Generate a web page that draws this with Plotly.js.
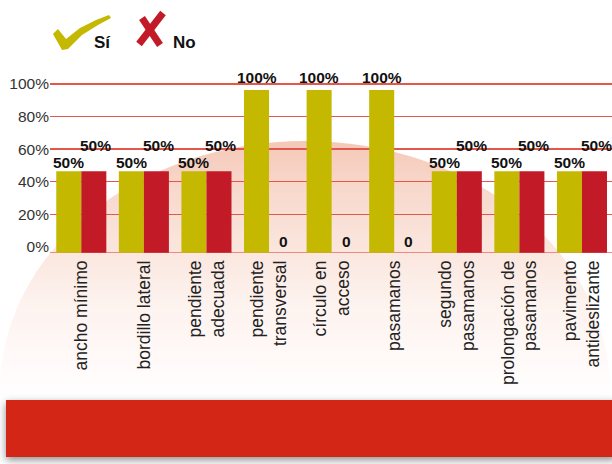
<!DOCTYPE html>
<html>
<head>
<meta charset="utf-8">
<script src="https://cdn.plot.ly/plotly-3.0.1.min.js"></script>
<style>
  html, body { margin: 0; padding: 0; background: #ffffff; }
  #wrap { position: relative; width: 612px; height: 464px; overflow: hidden; background: #ffffff; }
  #blob { position: absolute; left: 0px; top: 141px; width: 610px; height: 498px; border-radius: 50%;
          background: linear-gradient(to bottom, #f5c8b7 0px, #f8d9cd 50px, #fae4db 100px, #fdf2ee 160px, #fffbfa 230px, #ffffff 260px); }
  #band { position: absolute; left: 6px; top: 400px; width: 610px; height: 57px; background: #d42616;
          box-shadow: 0 3px 8px rgba(0,0,0,0.45); }
  #chart { position: absolute; left: 0; top: 0; width: 612px; height: 464px; }
</style>
</head>
<body>
<div id="wrap">
  <div id="blob"></div>
  <div id="band"></div>
  <div id="chart"></div>
</div>
<script>
// ---- data ----
const categories = [
  'ancho mínimo',
  'bordillo lateral',
  'pendiente<br>adecuada',
  'pendiente<br>transversal',
  'círculo en<br>acceso',
  'pasamanos',
  'segundo<br>pasamanos',
  'prolongación de<br>pasamanos',
  'pavimento<br>antideslizante'
];
const siValues = [50, 50, 50, 100, 100, 100, 50, 50, 50];
const noValues = [50, 50, 50, 0, 0, 0, 50, 50, 50];
const seriesNames = ['Sí', 'No'];
const yTickVals = [0, 20, 40, 60, 80, 100];
const yTickText = ['0%', '20%', '40%', '60%', '80%', '100%'];

// ---- styles ----
const olive = '#c4b800';
const red = '#c21a27';
const gridColor = '#e4574b';
const fontFam = '"Liberation Sans", Arial, sans-serif';

// plot area in pixels (for decorative legend icons)
const L = 50, T = 70, W = 562, H = 186;
const px = x => (x - L) / W;
const py = y => (T + H - y) / H;
function poly(pts) {
  return pts.map((p, i) => (i ? 'L' : 'M') + px(p[0]).toFixed(4) + ',' + py(p[1]).toFixed(4)).join(' ') + ' Z';
}

const traces = [
  // empty trace that anchors the scale axis (tick labels + grid)
  { type: 'scatter', mode: 'markers', x: [], y: [], xaxis: 'x', yaxis: 'y', hoverinfo: 'none', showlegend: false },
  { type: 'bar', name: seriesNames[0], x: categories, y: siValues, yaxis: 'y2',
    marker: { color: olive }, hoverinfo: 'none' },
  { type: 'bar', name: seriesNames[1], x: categories, y: noValues, yaxis: 'y2',
    marker: { color: red }, hoverinfo: 'none' }
];

const labelFont = { family: fontFam, size: 15.5, color: '#111', weight: 'bold' };
const annotations = [];
siValues.forEach((v, i) => {
  annotations.push({ x: i - 0.2, y: v, xref: 'x', yref: 'y2', text: v > 0 ? v + '%' : '0',
    showarrow: false, xanchor: 'center', yanchor: 'bottom', yshift: v >= 100 ? 2 : -2,
    font: labelFont });
});
noValues.forEach((v, i) => {
  annotations.push({ x: i + 0.2, y: v, xref: 'x', yref: 'y2', text: v > 0 ? v + '%' : '0',
    showarrow: false, xanchor: 'center', yanchor: 'bottom', xshift: 2, yshift: v > 0 ? 15 : 1,
    font: labelFont });
});
// legend texts
annotations.push({ xref: 'paper', yref: 'paper', x: px(92), y: py(43), text: '<b>' + seriesNames[0] + '</b>',
  showarrow: false, xanchor: 'left', yanchor: 'middle', font: { family: fontFam, size: 17, color: '#111' } });
annotations.push({ xref: 'paper', yref: 'paper', x: px(171), y: py(43), text: '<b>' + seriesNames[1] + '</b>',
  showarrow: false, xanchor: 'left', yanchor: 'middle', font: { family: fontFam, size: 17, color: '#111' } });

const shapes = [
  // check mark icon
  { type: 'path', xref: 'paper', yref: 'paper', fillcolor: olive, line: { width: 0 },
    path: poly([[53,34],[58,29],[66,39],[80,28],[96,20],[109,15],[111,18],[98,25],[82,35],[68,49],[62,50]]) },
  // X icon
  { type: 'line', xref: 'paper', yref: 'paper', x0: px(163), y0: py(13), x1: px(139), y1: py(44),
    line: { color: red, width: 7 } },
  { type: 'line', xref: 'paper', yref: 'paper', x0: px(142), y0: py(18), x1: px(160), y1: py(45),
    line: { color: red, width: 7 } }
];

const layout = {
  width: 612, height: 464,
  margin: { l: L, r: 0, t: T, b: 464 - T - H, pad: 0 },
  paper_bgcolor: 'rgba(0,0,0,0)', plot_bgcolor: 'rgba(0,0,0,0)',
  font: { family: fontFam, color: '#222' },
  showlegend: false,
  barmode: 'group', bargap: 0.2, bargroupgap: 0,
  xaxis: { type: 'category', range: [-0.5, 8.48], tickangle: -90, showgrid: false, zeroline: false,
    showline: false, ticks: '', tickfont: { family: fontFam, size: 17.5, color: '#222' }, fixedrange: true },
  yaxis: { range: [-5.59, 108.6], tickmode: 'array', tickvals: yTickVals, ticktext: yTickText,
    showgrid: false, zeroline: false, showline: false, ticks: '',
    tickfont: { family: fontFam, size: 15.5, color: '#333' },
    minor: { tickmode: 'array', tickvals: yTickVals.slice(1), showgrid: true, gridcolor: gridColor, gridwidth: 1.5, ticks: '' },
    fixedrange: true },
  yaxis2: { overlaying: 'y', side: 'left', range: [-2.03, 112.3], showticklabels: false, showgrid: false,
    zeroline: true, zerolinecolor: '#ee8a80', zerolinewidth: 1.5, showline: false, ticks: '', fixedrange: true },
  annotations: annotations,
  shapes: shapes
};

Plotly.newPlot('chart', traces, layout, { displayModeBar: false, staticPlot: true });
</script>
</body>
</html>
